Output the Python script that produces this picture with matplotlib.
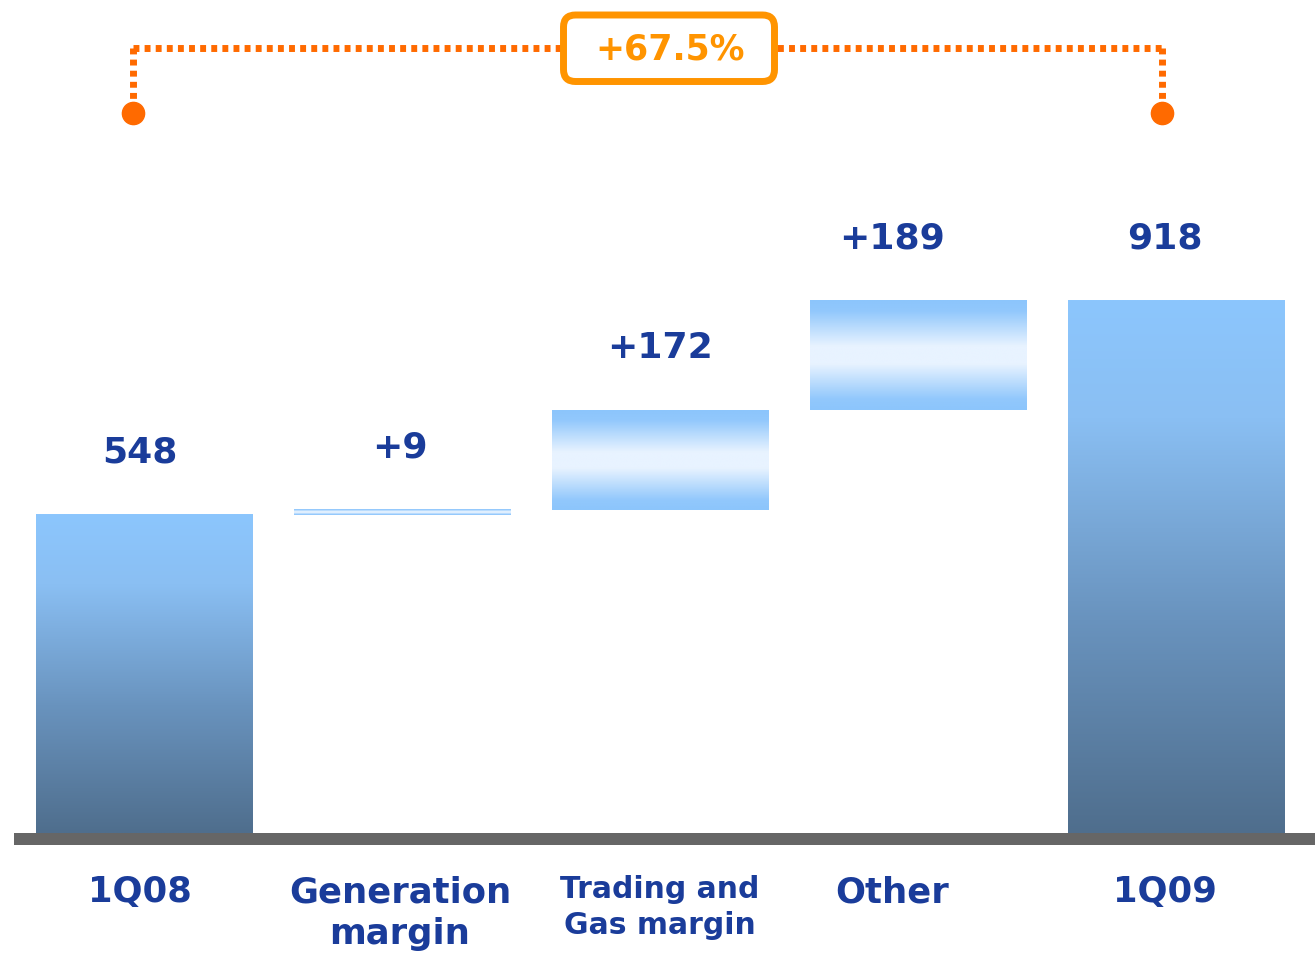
import numpy as np
import matplotlib.pyplot as plt
from matplotlib.colors import LinearSegmentedColormap
from matplotlib.patches import FancyBboxPatch
import matplotlib.transforms as mtransforms

# bridge data (EUR m)
categories = ["1Q08", "Generation\nmargin", "Trading and\nGas margin", "Other", "1Q09"]
start_value = 548
changes = [9, 172, 189]
end_value = 918
value_labels = ["548", "+9", "+172", "+189", "918"]
growth_label = "+67.5%"

# small horizontal nudges for the text (pixels)
text_shift = [-4, -2, 0, -26, -11]
cat_sizes = [25.5, 25.5, 21.5, 25.5, 25.5]

BLUE_TEXT = "#1A3C9A"
ORANGE = "#FF6A00"
BOX_ORANGE = "#FF9400"

full_cmap = LinearSegmentedColormap.from_list(
    "full", [(0.0, "#8CC6FD"), (0.22, "#8ABFF3"), (0.6, "#6993BE"), (1.0, "#4F6E8D")])
float_cmap = LinearSegmentedColormap.from_list(
    "float", [(0.0, "#8CC5FC"), (0.1, "#92C8FC"), (0.42, "#E8F3FF"),
              (0.58, "#E8F3FF"), (0.9, "#92C8FC"), (1.0, "#8CC5FC")])

# bottoms / tops of each bar
bottoms = [0]
tops = [start_value]
running = start_value
for c in changes:
    bottoms.append(running)
    running += c
    tops.append(running)
bottoms.append(0)
tops.append(end_value)

x = np.arange(len(categories))
width = 0.84

fig = plt.figure(figsize=(13.15, 9.55), dpi=100)
ax = fig.add_axes([0, 0, 1, 1])
ax.set_xlim(-0.558, 4.539)
ax.set_ylim(-210, 1435)
ax.axis("off")

grad = np.linspace(0, 1, 256).reshape(-1, 1)
for i in range(len(x)):
    cmap = full_cmap if i in (0, len(x) - 1) else float_cmap
    ax.imshow(grad, cmap=cmap, aspect="auto", interpolation="bilinear",
              extent=[x[i] - width / 2, x[i] + width / 2, bottoms[i], tops[i]],
              origin="upper", zorder=2)

# baseline
ax.fill_between([-0.504, 4.539], -20.5, 0, color="#666666", lw=0, zorder=3)

px = 72 / fig.dpi
for i in range(len(x)):
    ax.annotate(value_labels[i], xy=(x[i], tops[i]),
                xytext=(text_shift[i] * px, 62 * px), textcoords="offset points",
                ha="center", va="center", fontsize=26, fontweight="bold",
                color=BLUE_TEXT, zorder=5)
    ax.annotate(categories[i], xy=(x[i], 0),
                xytext=(text_shift[i] * px, -42 * px), textcoords="offset points",
                ha="center", va="top", fontsize=cat_sizes[i], fontweight="bold",
                color=BLUE_TEXT, linespacing=1.3, multialignment="center", zorder=5)

# growth bracket between first and last bar
trans = mtransforms.blended_transform_factory(ax.transData, ax.transAxes)
x0, x1 = x[0] - 0.043, x[-1] - 0.054
y_top, y_end, y_dot = 1 - 48 / 955, 1 - 100 / 955, 1 - 113 / 955
dotted = dict(color=ORANGE, lw=5, linestyle=(0, (0.85, 0.75)), transform=trans, zorder=4)
ax.plot([x0, x1], [y_top, y_top], **dotted)
ax.plot([x0, x0], [y_top, y_end], **dotted)
ax.plot([x1, x1], [y_top, y_end], **dotted)
ax.plot([x0, x1], [y_dot, y_dot], "o", ms=16, color=ORANGE, transform=trans, zorder=4)

box = FancyBboxPatch((5.635, 8.735), 2.11, 0.665, boxstyle="round,pad=0,rounding_size=0.12",
                     facecolor="white", edgecolor=BOX_ORANGE, lw=5,
                     transform=fig.dpi_scale_trans, zorder=6)
fig.add_artist(box)
fig.text(6.70 / 13.15, 1 - 50 / 955, growth_label, ha="center", va="center",
         fontsize=25, fontweight="bold", color=BOX_ORANGE, zorder=7)

fig.savefig("out.png", dpi=100)
